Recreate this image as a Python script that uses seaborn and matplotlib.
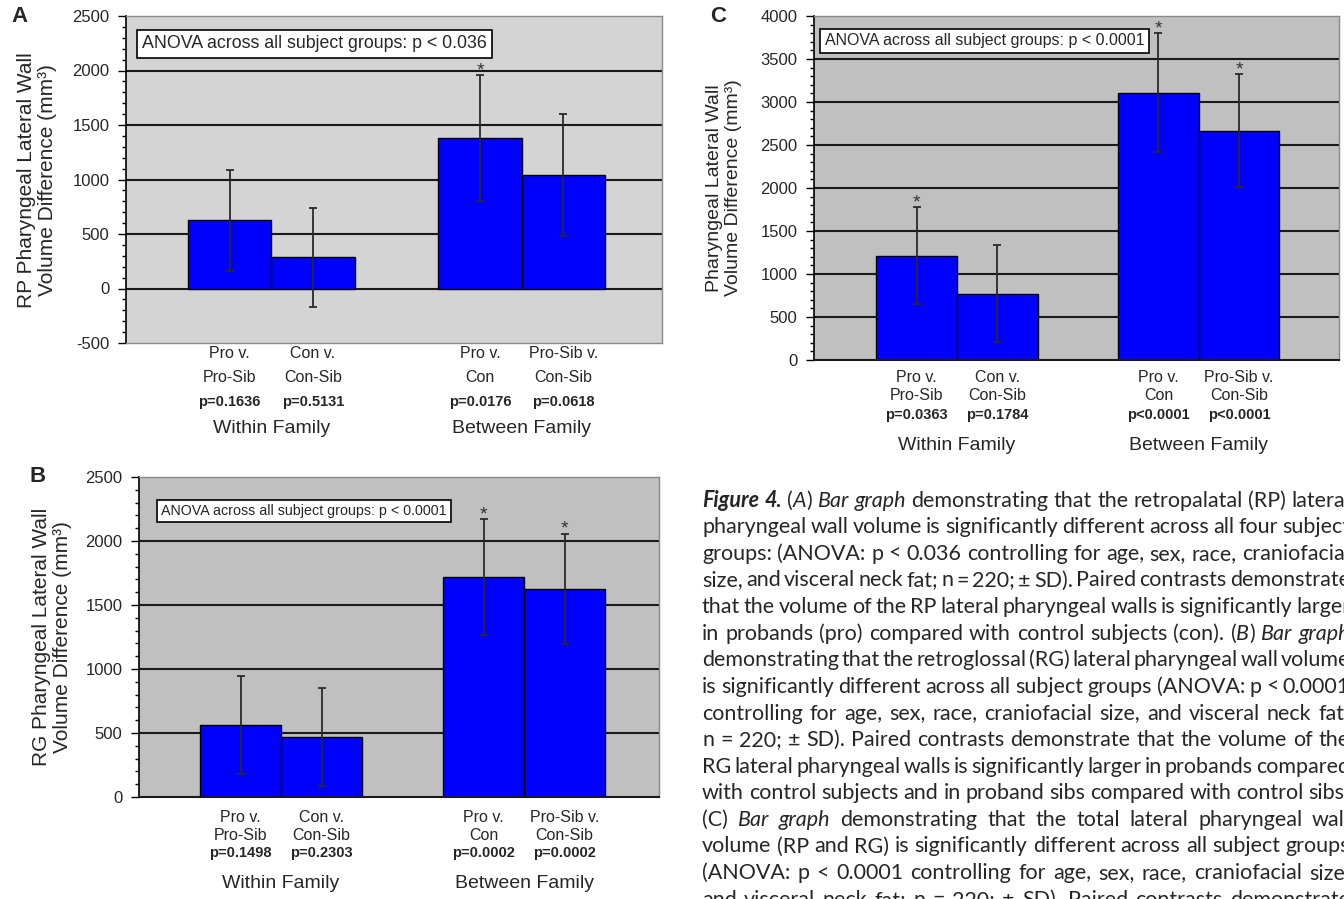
import numpy as np
import pandas as pd
import matplotlib
matplotlib.use('Agg')
import matplotlib.pyplot as plt
from matplotlib import transforms
from matplotlib.ticker import MultipleLocator
import seaborn as sns

# ---- data ----
contrasts = ['Pro v.\nPro-Sib', 'Con v.\nCon-Sib', 'Pro v.\nCon', 'Pro-Sib v.\nCon-Sib']
families = ['Within Family', 'Between Family']

rp_diff = [625, 285, 1380, 1042]
rp_sd = [460, 455, 578, 558]
rp_p = ['p=0.1636', 'p=0.5131', 'p=0.0176', 'p=0.0618']
rp_star = [False, False, True, False]
rp_anova = 'ANOVA across all subject groups: p < 0.036'

rg_diff = [564, 470, 1716, 1625]
rg_sd = [385, 385, 452, 432]
rg_p = ['p=0.1498', 'p=0.2303', 'p=0.0002', 'p=0.0002']
rg_star = [False, False, True, True]
rg_anova = 'ANOVA across all subject groups: p < 0.0001'

tot_diff = [1213, 771, 3105, 2666]
tot_sd = [565, 567, 692, 655]
tot_p = ['p=0.0363', 'p=0.1784', 'p<0.0001', 'p<0.0001']
tot_star = [True, False, True, True]
tot_anova = 'ANOVA across all subject groups: p < 0.0001'

caption_lines = [
    [('Figure 4.', 'bi'), ('  (', ''), ('A', 'i'), (') ', ''), ('Bar graph', 'i'),
     (' demonstrating that the retropalatal (RP) lateral', '')],
    [('pharyngeal wall volume is significantly different across all four subject', '')],
    [('groups: (ANOVA: p < 0.036 controlling for age, sex, race, craniofacial', '')],
    [('size, and visceral neck fat; n = 220; \u00b1 SD). Paired contrasts demonstrate', '')],
    [('that the volume of the RP lateral pharyngeal walls is significantly larger', '')],
    [('in probands (pro) compared with control subjects (con). (', ''), ('B', 'i'), (') ', ''),
     ('Bar graph', 'i')],
    [('demonstrating that the retroglossal (RG) lateral pharyngeal wall volume', '')],
    [('is significantly different across all subject groups (ANOVA: p < 0.0001', '')],
    [('controlling for age, sex, race, craniofacial size, and visceral neck fat;', '')],
    [('n = 220; \u00b1 SD). Paired contrasts demonstrate that the volume of the', '')],
    [('RG lateral pharyngeal walls is significantly larger in probands compared', '')],
    [('with control subjects and in proband sibs compared with control sibs.', '')],
    [('(C) ', ''), ('Bar graph', 'i'), (' demonstrating that the total lateral pharyngeal wall', '')],
    [('volume (RP and RG) is significantly different across all subject groups', '')],
    [('(ANOVA: p < 0.0001 controlling for age, sex, race, craniofacial size,', '')],
    [('and visceral neck fat; n = 220; \u00b1 SD). Paired contrasts demonstrate', '')],
]

W, H = 1344, 899
sns.set_style('ticks')
plt.rcParams['font.family'] = ['Liberation Sans', 'DejaVu Sans']
plt.rcParams['axes.unicode_minus'] = False

fig = plt.figure(figsize=(W / 100, H / 100), dpi=100)
fig.patch.set_facecolor('white')


def fx(x):
    return x / W


def fy(y):
    return 1 - y / H


panels = [
    dict(letter='A', diff=rp_diff, sd=rp_sd, p=rp_p, star=rp_star, anova=rp_anova,
         ylabel='RP Pharyngeal Lateral Wall\nVolume Difference (mm\u00b3)',
         box=(126, 662, 16, 343), ylim=(-500, 2500), xlim=(-1.24, 5.18), bg='#d4d4d4',
         letter_xy=(19, 17), ylab_xy=(37, 180), ylab_fs=15, lab_y=[353, 378, 402, 429],
         anova_xy=(142, 44), anova_fs=12.8, bottom_black=False),
    dict(letter='B', diff=rg_diff, sd=rg_sd, p=rg_p, star=rg_star, anova=rg_anova,
         ylabel='RG Pharyngeal Lateral Wall\nVolume Difference (mm\u00b3)',
         box=(139, 659, 477, 797), ylim=(0, 2500), xlim=(-1.254, 5.166), bg='#c0c0c0',
         letter_xy=(38, 476), ylab_xy=(52, 637), ylab_fs=15, lab_y=[817, 835, 853, 884],
         anova_xy=(161, 511), anova_fs=10.3, bottom_black=True),
    dict(letter='C', diff=tot_diff, sd=tot_sd, p=tot_p, star=tot_star, anova=tot_anova,
         ylabel='Pharyngeal Lateral Wall\nVolume Difference (mm\u00b3)',
         box=(814, 1339, 16, 360), ylim=(0, 4000), xlim=(-1.273, 5.24), bg='#c0c0c0',
         letter_xy=(718, 16), ylab_xy=(724, 188), ylab_fs=14, lab_y=[377, 395, 415, 445],
         anova_xy=(825, 41), anova_fs=11.5, bottom_black=True),
]

spacer = ' '
order = contrasts[:2] + [spacer] + contrasts[2:]
xpos = [order.index(c) for c in contrasts]

for pn in panels:
    l, r, t, b = pn['box']
    ax = fig.add_axes([fx(l), fy(b), fx(r) - fx(l), fy(t) - fy(b)])
    df = pd.DataFrame({'contrast': contrasts, 'diff': pn['diff']})
    sns.barplot(data=df, x='contrast', y='diff', order=order, color='#0000ff',
                saturation=1, width=1.0, edgecolor='black', linewidth=1.0,
                errorbar=None, ax=ax, zorder=2)
    ax.errorbar(xpos, pn['diff'], yerr=pn['sd'], fmt='none', ecolor='#2a2a2a',
                elinewidth=1.3, capsize=3, capthick=1.3, zorder=4)
    for x, m, s, st in zip(xpos, pn['diff'], pn['sd'], pn['star']):
        if st:
            ax.annotate('*', xy=(x, m + s), xytext=(0, 0), textcoords='offset points',
                        ha='center', va='baseline', fontsize=14, color='#333333')

    ax.set_facecolor(pn['bg'])
    ax.set_xlim(*pn['xlim'])
    ax.set_ylim(*pn['ylim'])
    ax.yaxis.set_major_locator(MultipleLocator(500))
    ax.yaxis.set_minor_locator(MultipleLocator(100))
    ax.yaxis.grid(True, color='#1a1a1a', lw=1.5)
    ax.set_axisbelow(True)
    ax.set_xticks([])
    ax.set_xlabel('')
    ax.set_ylabel('')
    ax.tick_params(axis='y', which='major', length=6, width=1, direction='out',
                   labelsize=12, pad=6, color='black')
    ax.tick_params(axis='y', which='minor', length=3, width=1, direction='out', color='black')
    for sp in ['top', 'right']:
        ax.spines[sp].set_color('#8a8a8a')
        ax.spines[sp].set_linewidth(1)
    ax.spines['left'].set_color('black')
    ax.spines['left'].set_linewidth(1.2)
    ax.spines['bottom'].set_color('#1a1a1a' if pn['bottom_black'] else '#8a8a8a')
    ax.spines['bottom'].set_linewidth(1.5 if pn['bottom_black'] else 1)
    fig.canvas.draw()
    for tk in ax.yaxis.get_major_ticks():
        v = tk.get_loc()
        if v >= pn['ylim'][1] - 1 or v <= pn['ylim'][0] + 1:
            tk.gridline.set_visible(False)

    # category labels under the bars
    tr = transforms.blended_transform_factory(ax.transData, fig.transFigure)
    for x, c, p in zip(xpos, contrasts, pn['p']):
        l1, l2 = c.split('\n')
        ax.text(x, fy(pn['lab_y'][0]), l1, transform=tr, ha='center', va='center',
                fontsize=11.5)
        ax.text(x, fy(pn['lab_y'][1]), l2, transform=tr, ha='center', va='center',
                fontsize=11.5)
        ax.text(x, fy(pn['lab_y'][2]), p, transform=tr, ha='center', va='center',
                fontsize=10.5, fontweight='bold')
    for fam, pair in zip(families, [xpos[:2], xpos[2:]]):
        ax.text(np.mean(pair), fy(pn['lab_y'][3]), fam, transform=tr, ha='center',
                va='center', fontsize=14)

    fig.text(fx(pn['anova_xy'][0]), fy(pn['anova_xy'][1]), pn['anova'], ha='left',
             va='center', fontsize=pn['anova_fs'],
             bbox=dict(boxstyle='square,pad=0.3', fc='white', ec='black', lw=1.2))
    fig.text(fx(pn['letter_xy'][0]), fy(pn['letter_xy'][1]), pn['letter'], ha='center',
             va='center', fontsize=16, fontweight='bold')
    fig.text(fx(pn['ylab_xy'][0]), fy(pn['ylab_xy'][1]), pn['ylabel'], rotation=90,
             ha='center', va='center', multialignment='center', fontsize=pn['ylab_fs'],
             linespacing=1.12)

# ---- caption block, justified lines clipped by the right edge ----
renderer = fig.canvas.get_renderer()
cap_fam = ['Lato', 'DejaVu Sans']
cap_fs = 15.5
x0, x1 = 702, 1350
base0, lead = 506.7, 26.6


def style_kw(st):
    kw = dict(fontsize=cap_fs, family=cap_fam)
    if 'i' in st:
        kw['fontstyle'] = 'italic'
    if 'b' in st:
        kw['fontweight'] = 'bold'
    return kw


for i, segs in enumerate(caption_lines):
    words = [[]]
    for txt, st in segs:
        parts = txt.split(' ')
        for j, part in enumerate(parts):
            if j > 0 and words[-1]:
                words.append([])
            if part:
                words[-1].append((part, st))
    words = [w for w in words if w]
    objs = []
    widths = []
    for w in words:
        runs = []
        ww = 0
        for txt, st in w:
            t = fig.text(0, 0, txt, ha='left', va='baseline', **style_kw(st))
            wd = t.get_window_extent(renderer).width
            runs.append((t, wd))
            ww += wd
        objs.append(runs)
        widths.append(ww)
    gap = (x1 - x0 - sum(widths)) / max(len(words) - 1, 1)
    y = base0 + lead * i
    x = x0
    for runs, ww in zip(objs, widths):
        xx = x
        for t, wd in runs:
            t.set_position((fx(xx), fy(y)))
            xx += wd
        x += ww + gap

fig.savefig('out.png', dpi=100, facecolor='white')
